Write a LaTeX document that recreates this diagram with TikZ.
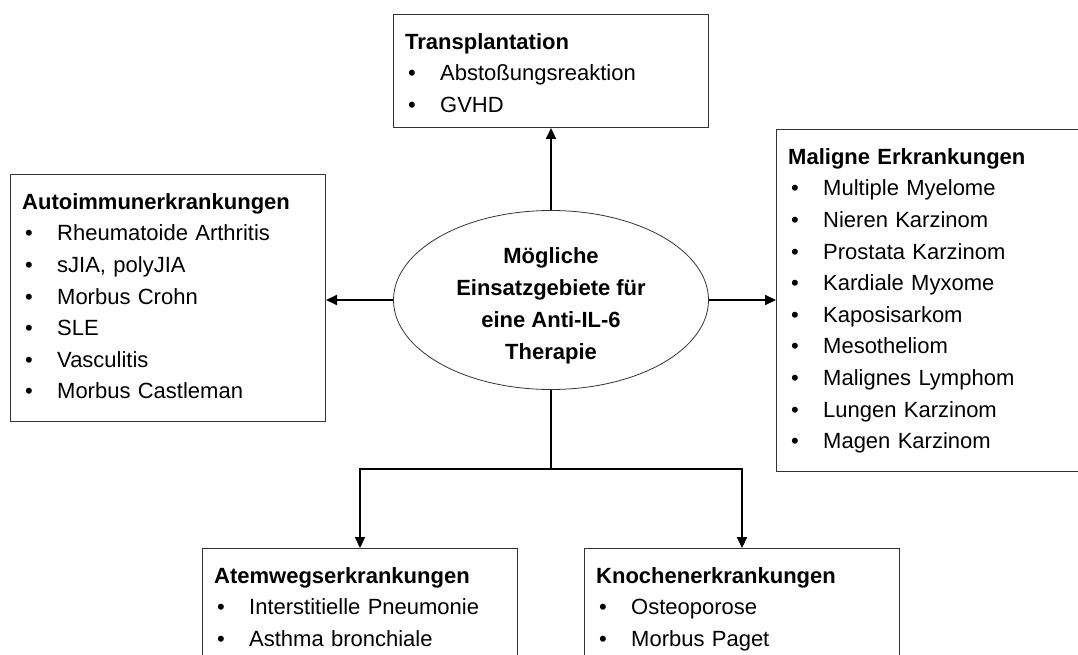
\documentclass[tikz,border=0pt]{standalone}
\usepackage{fontspec}
\setmainfont{Liberation Sans}
\usepackage{tikz}
\usetikzlibrary{arrows.meta,positioning,shapes,calc}

\newcommand{\kopf}[1]{\strut\textbf{#1}}
\newcommand{\itm}[1]{\hspace*{3pt}\makebox[32pt][l]{\textbullet}#1}

\begin{document}
\begin{tikzpicture}[x=1pt,y=-1pt,
        every node/.style={font=\fontsize{22}{31.6}\selectfont},
        box/.style={draw=black!80, line width=1pt, rectangle, anchor=north west,
          minimum width=315pt, inner sep=0pt},
        inhalt/.style={anchor=north west, text width=291pt, align=left,
          inner xsep=12pt, inner ysep=13pt},
        mitte/.style={draw=black!80, line width=0.8pt, ellipse, minimum width=315pt,
          minimum height=179pt, inner sep=0pt},
        mittetext/.style={anchor=center, yshift=-6pt, align=center,
          font=\fontsize{22}{32}\selectfont\bfseries},
        conn/.style={line width=2pt},
        pfeil/.style={conn, -{Triangle[length=11pt,width=10pt]}}]
        \useasboundingbox (0,0) rectangle (1078,655);
        \clip (0,0) rectangle (1078,655);
        \node[mitte, label={[mittetext]center:{Mögliche\\Einsatzgebiete für\\eine Anti-IL-6\\Therapie}}]
          (Mitte) at (551,300) {};
        \node[box, minimum height=113pt, label={[inhalt]north west:{\kopf{Transplantation}\\
          \itm{Abstoßungsreaktion}\\\itm{GVHD}}}] (Trans) at (393,14) {};
        \node[box, minimum height=247pt, label={[inhalt]north west:{\kopf{Autoimmunerkrankungen}\\
          \itm{Rheumatoide Arthritis}\\\itm{sJIA, polyJIA}\\\itm{Morbus Crohn}\\\itm{SLE}\\
          \itm{Vasculitis}\\\itm{Morbus Castleman}}}] (Auto) at (10,174) {};
        \node[box, minimum height=342pt, label={[inhalt]north west:{\kopf{Maligne Erkrankungen}\\
          \itm{Multiple Myelome}\\\itm{Nieren Karzinom}\\\itm{Prostata Karzinom}\\
          \itm{Kardiale Myxome}\\\itm{Kaposisarkom}\\\itm{Mesotheliom}\\
          \itm{Malignes Lymphom}\\\itm{Lungen Karzinom}\\\itm{Magen Karzinom}}}] (Malig) at (776,129) {};
        \node[box, minimum height=113pt, label={[inhalt]north west:{\kopf{Atemwegserkrankungen}\\
          \itm{Interstitielle Pneumonie}\\\itm{Asthma bronchiale}}}] (Atem) at (202,548) {};
        \node[box, minimum height=113pt, label={[inhalt]north west:{\kopf{Knochenerkrankungen}\\
          \itm{Osteoporose}\\\itm{Morbus Paget}}}] (Knochen) at (584,548) {};
        \coordinate (Gabel) at (551,469);
        \draw[pfeil] (Mitte.north) -- (Trans.south);
        \draw[pfeil] (Mitte.west) -- (Mitte.west -| Auto.east);
        \draw[pfeil] (Mitte.east) -- (Mitte.east -| Malig.west);
        \draw[conn] (Mitte.south) -- (Gabel);
        \draw[pfeil] (Gabel) -| (Atem.north);
        \draw[pfeil] (Gabel) -| (Knochen.north);
\end{tikzpicture}
\end{document}
